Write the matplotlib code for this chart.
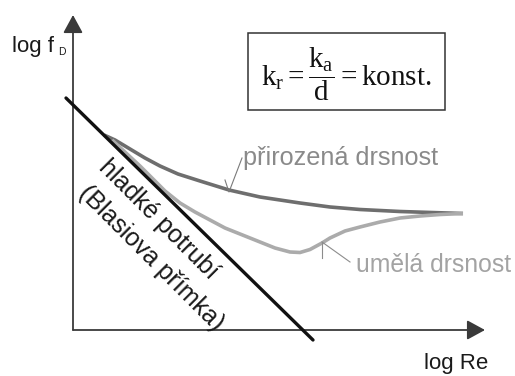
import matplotlib
matplotlib.use("Agg")
import matplotlib.pyplot as plt
from matplotlib.patches import Rectangle

plt.rcParams['font.family'] = ['Liberation Sans', 'DejaVu Sans']
plt.rcParams['mathtext.fontset'] = 'custom'
plt.rcParams['mathtext.rm'] = 'Liberation Serif'
plt.rcParams['mathtext.it'] = 'Liberation Serif:italic'

# schematic coordinates: log Re along x, log f_D along y (origin at the axis corner)
axis_x_end = 41.2
axis_y_end = 31.5

# smooth pipe (Blasius line)
blasius_x = [-0.7, 24.0]
blasius_y = [23.2, -1.0]

# natural roughness
natural_x = [3.1, 4.2, 5.7, 7.2, 8.7, 10.5, 12.7, 15.6, 18.7, 22.7, 25.7, 28.7, 32.7, 39.0]
natural_y = [19.5, 19.0, 18.1, 17.2, 16.4, 15.6, 14.9, 14.0, 13.3, 12.7, 12.3, 12.05, 11.85, 11.65]

# artificial roughness
artificial_x = [3.9, 6.7, 9.2, 10.7, 12.2, 13.7, 15.2, 17.2, 18.7, 20.2, 21.7, 22.7,
                23.7, 24.9, 25.7, 27.2, 28.7, 30.7, 32.7, 34.7, 36.7, 39.0]
artificial_y = [19.0, 16.4, 13.9, 12.7, 11.8, 11.0, 10.2, 9.4, 8.8, 8.2, 7.8, 7.75,
                8.05, 8.7, 9.2, 9.9, 10.3, 10.8, 11.2, 11.4, 11.55, 11.65]

label_natural = "přirozená drsnost"
label_artificial = "umělá drsnost"
label_smooth = ["hladké potrubí", "(Blasiova přímka)"]
label_x = "log Re"
label_y = "log f"
label_y_sub = "D"
formula = r'$\mathrm{k_r = \dfrac{k_a}{d} = konst.}$'

fig = plt.figure(figsize=(5.15, 3.76), dpi=100)
ax = fig.add_axes([0, 0, 1, 1])
ax.set_xlim(-7.3, 44.2)
ax.set_ylim(-4.6, 33.0)
ax.axis('off')

axis_col = '#3a3a3a'
arrow = dict(arrowstyle='-|>,head_length=0.55,head_width=0.3', color=axis_col,
             lw=1.3, shrinkA=0, shrinkB=0, mutation_scale=20)
ax.annotate('', xy=(0, axis_y_end), xytext=(0, 0), arrowprops=arrow)
ax.annotate('', xy=(axis_x_end, 0), xytext=(0, 0), arrowprops=arrow)

ax.plot(natural_x, natural_y, color='#6e6e6e', lw=2.6, solid_capstyle='butt', zorder=2)
ax.plot(artificial_x, artificial_y, color='#ababab', lw=2.6, solid_capstyle='butt', zorder=2)
ax.plot(blasius_x, blasius_y, color='#111111', lw=2.4, solid_capstyle='round', zorder=3)

# leader lines to the curve labels
ax.plot([15.2, 15.6, 16.9], [15.0, 13.8, 17.2], color='#7a7a7a', lw=0.8, zorder=4)
ax.plot([24.9, 24.9], [8.8, 7.2], color='#8c8c8c', lw=0.8, zorder=4)
ax.plot([24.9, 27.7], [8.8, 6.8], color='#8c8c8c', lw=0.8, zorder=4)

ax.text(17.0, 16.5, label_natural, fontsize=18.2, color='#8a8a8a', ha='left', va='baseline')
ax.text(28.3, 5.8, label_artificial, fontsize=17.8, color='#a3a3a3', ha='left', va='baseline')

ax.text(8.5, 11.1, label_smooth[0], fontsize=18, color='#1a1a1a', rotation=-45,
        rotation_mode='anchor', ha='center', va='center')
ax.text(7.8, 7.2, label_smooth[1], fontsize=18, color='#1a1a1a', rotation=-45,
        rotation_mode='anchor', ha='center', va='center')

ax.text(-6.1, 27.8, label_y, fontsize=16, color='#1a1a1a', ha='left', va='baseline')
ax.text(-1.5, 27.5, label_y_sub, fontsize=7.5, color='#1a1a1a', ha='left', va='baseline')
ax.text(41.5, -3.9, label_x, fontsize=16, color='#1a1a1a', ha='right', va='baseline')

ax.add_patch(Rectangle((17.5, 22.0), 19.7, 7.7, fill=False, edgecolor='#333333', lw=1.1))
ax.text(27.3, 25.6, formula, fontsize=21, color='#111111', ha='center', va='center')

fig.savefig('out.png', dpi=100, facecolor='white')
